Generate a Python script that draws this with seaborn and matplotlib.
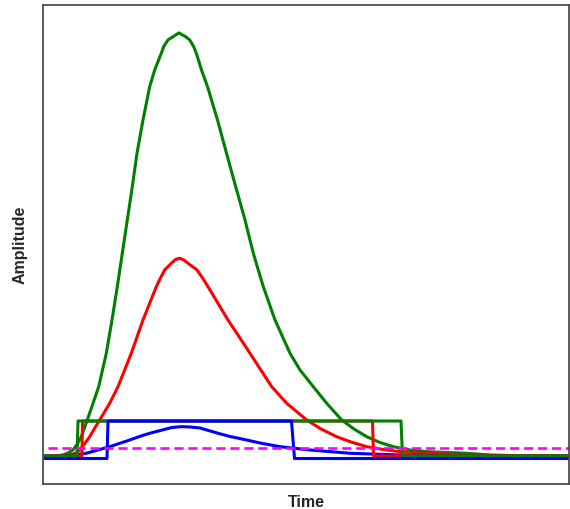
import numpy as np
import pandas as pd
import matplotlib
matplotlib.use("Agg")
import matplotlib.pyplot as plt
import seaborn as sns

# ---- data (time in arbitrary units, amplitude in % of largest pulse) ----
green_t = [0, 2, 3.6, 4.6, 5.6, 6.4, 7.26, 8.46, 10.74, 12.26, 13.4, 14.46, 15.46, 16.46,
           17.46, 18.4, 19.6, 20.94, 21.94, 23.26, 23.74, 24.6, 25.6, 26.8, 28.14, 28.94,
           29.74, 30.26, 31.3, 32.5, 34.5, 36.3, 38.14, 40, 41.66, 43.66, 46, 49, 51,
           53.66, 56.34, 59.34, 61.8, 64.34, 67, 69.66, 73, 76.34, 84.34, 89, 97, 105]
green_a = [0, 0, 0.24, 0.71, 1.42, 2.72, 4.56, 8.51, 16.38, 24.28, 32.15, 40.02, 47.92, 55.79,
           63.66, 71.56, 79.43, 87.31, 91.25, 95.20, 96.76, 98.35, 99.1, 100.0, 99.1, 98.35,
           96.76, 95.20, 91.25, 87.31, 79.43, 71.56, 63.66, 55.79, 47.92, 40.02, 32.15, 24.28,
           20.33, 16.38, 12.46, 8.51, 6.38, 4.56, 3.19, 2.20, 1.42, 1.02, 0.64, 0.24, 0, 0]

red_t = [0, 3, 5, 6, 6.94, 7.9, 8.94, 9.9, 10.94, 12.94, 14.6, 17.26, 19.6, 22.26, 23.1,
         23.94, 25.26, 26.1, 26.94, 27.8, 28.6, 30.4, 31.5, 32.6, 36.6, 41, 45.34, 48.34,
         52.34, 55.2, 58.34, 61.2, 64.34, 67.6, 71, 76.34, 85, 95, 105]
red_a = [0, 0, 0.24, 0.59, 1.42, 2.84, 4.56, 6.5, 8.51, 12.46, 16.38, 24.28, 32.15, 40.02, 42.1,
         43.97, 45.56, 46.45, 46.74, 46.3, 45.56, 43.97, 42.1, 40.02, 32.15, 24.28, 16.38, 12.46,
         8.51, 6.38, 4.56, 3.31, 2.20, 1.54, 1.02, 0.64, 0.24, 0, 0]

blue_t = [0, 3, 6, 8.26, 12.94, 16.94, 18.9, 20.94, 24, 25.4, 27.26, 29, 31, 34.6, 37,
          40.34, 43, 47, 53, 61, 71, 81, 105]
blue_a = [0, 0, 0.24, 0.64, 2.20, 3.78, 4.61, 5.37, 6.31, 6.74, 6.93, 6.86, 6.62, 5.37, 4.61,
          3.78, 3.07, 2.20, 1.42, 0.64, 0.24, 0, 0]

gate_level = 8.27
green_gate_t = [0, 6.4, 6.6, 71.2, 71.5, 105]
green_gate_a = [0, 0, gate_level, gate_level, 0, 0]
red_gate_t = [0, 7.4, 7.5, 65.5, 65.7, 105]
red_gate_a = [0, 0, gate_level, gate_level, 0, 0]
blue_gate_t = [0, 12.4, 12.6, 49.3, 49.9, 105]
blue_gate_a = [-0.6, -0.6, gate_level, gate_level, -0.6, -0.6]

threshold = 1.89
thr_t = [0.6, 105]
thr_a = [threshold, threshold]

# ---- plotting ----
sns.set_style("white")
plt.rcParams['font.family'] = ['Liberation Sans', 'DejaVu Sans']

fig = plt.figure(figsize=(5.70, 5.09), dpi=100)
ax = fig.add_axes([43 / 570, 25 / 509, 526 / 570, 479 / 509])

def draw(t, a, color, lw, ls='-'):
    df = pd.DataFrame({"t": t, "a": a})
    sns.lineplot(data=df, x="t", y="a", ax=ax, color=color, linewidth=lw,
                 estimator=None, sort=False, linestyle=ls)

draw(green_t, green_a, "#008000", 2.2)
draw(red_t, red_a, "#ff0000", 2.2)
draw(blue_t, blue_a, "#0000ff", 2.2)
draw(red_gate_t, red_gate_a, "#ff0000", 2.2)
draw(green_gate_t, green_gate_a, "#008000", 2.2)
draw(blue_gate_t, blue_gate_a, "#0000ff", 2.2)
draw(thr_t, thr_a, "#ff00ff", 1.9, ls=(0, (3.5, 1.8)))

for ln in ax.lines:
    ln.set_solid_joinstyle('round')

ax.set_xlim(-0.4, 104.8)
ax.set_ylim(-6.62, 106.6)
ax.set_xticks([])
ax.set_yticks([])

for s in ax.spines.values():
    s.set_color("#404040")
    s.set_linewidth(1.2)

ax.set_xlabel("Time", fontsize=11.5, fontweight="bold", labelpad=8)
ax.set_ylabel("Amplitude", fontsize=11.5, fontweight="bold", labelpad=11)

fig.savefig("out.png", dpi=100)
